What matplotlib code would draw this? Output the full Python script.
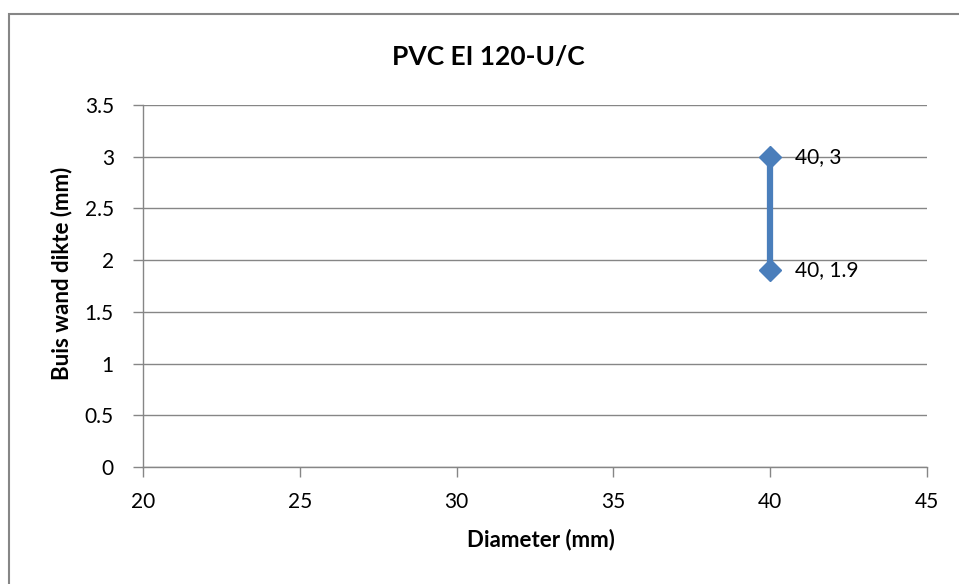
import matplotlib.pyplot as plt
from matplotlib.patches import Rectangle

plt.rcParams['font.family'] = ['Lato', 'DejaVu Sans']

# dane
diameter = [40, 40]
wall = [3, 1.9]
x_ticks = [20, 25, 30, 35, 40, 45]
y_ticks = [0, 0.5, 1, 1.5, 2, 2.5, 3, 3.5]

W, H = 959, 584
fig = plt.figure(figsize=(W / 100, H / 100), dpi=100)
ax = fig.add_axes([143 / W, 1 - 467 / H, (927 - 143) / W, (467 - 105) / H])

# ramka wykresu
fig.patches.append(Rectangle((9 / W, -0.1), 1.2, 1 - 14 / H + 0.1, transform=fig.transFigure,
                             fill=False, edgecolor='#868686', linewidth=1.5))

ax.plot(diameter, wall, color='#4A7EBB', linewidth=4.5, marker='D', markersize=11,
        markerfacecolor='#4A7EBB', markeredgecolor='#4A7EBB', clip_on=False, zorder=3)

for x, y in zip(diameter, wall):
    ax.annotate(f'{x}, {y:g}', (x, y), xytext=(18, 0), textcoords='offset points',
                va='center', ha='left', fontsize=15)

ax.set_xlim(20, 45)
ax.set_ylim(0, 3.5)
ax.set_xticks(x_ticks)
ax.set_yticks(y_ticks)
ax.set_yticklabels([f'{v:g}' for v in y_ticks])
ax.tick_params(labelsize=15, color='#868686', length=7, width=1)
ax.tick_params(axis='x', pad=11)
ax.tick_params(axis='y', pad=14)
ax.grid(axis='y', color='#868686', linewidth=1)
ax.set_axisbelow(True)
for s in ['top', 'right']:
    ax.spines[s].set_visible(False)
for s in ['left', 'bottom']:
    ax.spines[s].set_color('#868686')
    ax.spines[s].set_linewidth(1)

fig.text(488 / W, 1 - 57 / H, 'PVC EI 120-U/C', fontsize=19, fontweight='bold',
         ha='center', va='center')
fig.text(541 / W, 1 - 540 / H, 'Diameter (mm)', fontsize=16, fontweight='bold',
         ha='center', va='center')
fig.text(62 / W, 1 - 273 / H, 'Buis wand dikte (mm)', fontsize=16, fontweight='bold',
         ha='center', va='center', rotation=90)

fig.savefig('out.png', dpi=100)
